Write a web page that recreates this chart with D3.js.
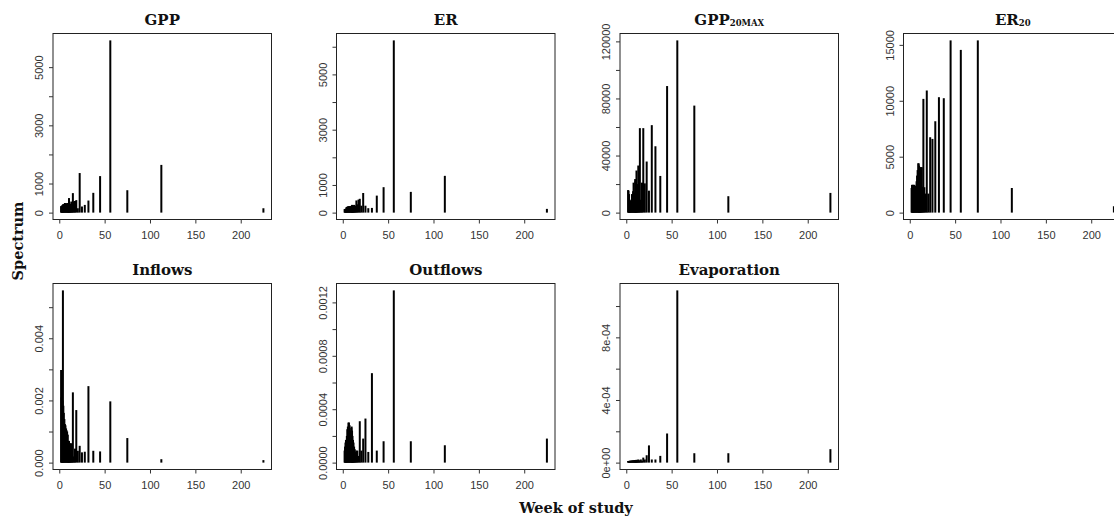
<!DOCTYPE html>
<html>
<head>
<meta charset="utf-8">
<script src="https://cdn.jsdelivr.net/npm/d3@7"></script>
<style>
  html, body { margin: 0; padding: 0; background: #fff; }
  svg { display: block; }
</style>
</head>
<body>
<svg id="chart" width="1114" height="520"></svg>
<script>
// Periodogram ordinates plotted against period (weeks); one entry per Fourier frequency kept.
const periods = [225, 112.5, 75, 56.25, 45, 37.5, 32.14, 28.13, 25, 22.5, 20.45, 18.75, 17.31, 16.07, 15, 14.06,
  13.24, 12.5, 11.84, 11.25, 10.71, 10.23, 9.78, 9.38, 8.65, 8.04, 7.5, 6.82, 6.25, 5.63, 5, 4.5, 4.02, 3.52, 3, 2.5, 2.01];

const gpp = [150, 1640, 770, 5920, 1255, 680, 415, 265, 210, 1360, 150, 430, 400, 380, 670, 250,
  380, 300, 280, 300, 500, 320, 280, 300, 330, 280, 300, 320, 330, 300, 290, 280, 280, 250, 240, 230, 220];

const er = [135, 1330, 750, 6230, 920, 615, 170, 160, 250, 710, 250, 500, 470, 300, 440, 250,
  200, 280, 260, 250, 220, 280, 250, 240, 230, 230, 225, 230, 220, 225, 210, 200, 190, 140, 135, 130, 125];

const gpp20max = [13800, 11500, 75000, 120700, 88700, 25700, 46500, 61300, 15400, 35800, 20500, 59200, 21000, 9000, 59200, 18000,
  33000, 20000, 18000, 29500, 17000, 22000, 23500, 14000, 13000, 21000, 15000, 10000, 13000, 9000, 7000, 8400, 6000, 9000, 13000, 15400, 15800];

const er20 = [570, 2200, 15400, 14550, 15400, 10230, 10320, 8170, 6590, 6740, 1700, 10920, 1700, 2270, 10170, 2300,
  4060, 4060, 3500, 4060, 3800, 4200, 4400, 4410, 3800, 3310, 2800, 2400, 1670, 2000, 2480, 2480, 2400, 2480, 2480, 2480, 2200];

const inflows = [0.00008, 0.00011, 0.00079, 0.00197, 0.00036, 0.00038, 0.00246, 0.00035, 0.00033, 0.00054, 0.00038, 0.00169, 0.00045, 0.00020, 0.00226, 0.00050,
  0.00062, 0.00062, 0.00060, 0.00062, 0.00070, 0.00065, 0.00070, 0.00090, 0.00100, 0.00104, 0.00110, 0.00120, 0.00124, 0.00140, 0.00160, 0.00183, 0.00554, 0.00200, 0.00210, 0.00210, 0.00298];

const outflows = [0.00018, 0.00013, 0.00016, 0.00129, 0.00016, 0.00009, 0.00067, 0.00008, 0.00033, 0.00018, 0.00009, 0.00031, 0.00005, 0.00009, 0.00009, 0.00008,
  0.00010, 0.00012, 0.00015, 0.00017, 0.00020, 0.00024, 0.00027, 0.00026, 0.00024, 0.00024, 0.00028, 0.00030, 0.00030, 0.00027, 0.00025, 0.00020, 0.00017, 0.00017, 0.00015, 0.00012, 0.00009];

const evaporation = [0.000086, 0.00006, 0.00006, 0.00110, 0.000186, 0.000043, 0.00002, 0.00002, 0.00011, 0.000047, 0.00002, 0.000032, 0.000012, 0.00002, 0.000015, 0.000012,
  0.00002, 0.000015, 0.000015, 0.000018, 0.000015, 0.000014, 0.000015, 0.000016, 0.000014, 0.000015, 0.000013, 0.000014, 0.000012, 0.000013, 0.000012, 0.000011, 0.000012, 0.00001, 0.000011, 0.00001, 0.00001];

// Axis ticks and their labels (blank where the label is dropped)
const xTicks = [0, 50, 100, 150, 200];
const gppTicks = [0, 1000, 2000, 3000, 4000, 5000];
const gppLabels = ["0", "1000", "", "3000", "", "5000"];
const erTicks = [0, 1000, 2000, 3000, 4000, 5000, 6000];
const erLabels = ["0", "1000", "", "3000", "", "5000", ""];
const gpp20Ticks = [0, 20000, 40000, 60000, 80000, 100000, 120000];
const gpp20Labels = ["0", "", "40000", "", "80000", "", "120000"];
const er20Ticks = [0, 5000, 10000, 15000];
const er20Labels = ["0", "5000", "10000", "15000"];
const inTicks = [0, 0.001, 0.002, 0.003, 0.004, 0.005];
const inLabels = ["0.000", "", "0.002", "", "0.004", ""];
const outTicks = [0, 0.0002, 0.0004, 0.0006, 0.0008, 0.001, 0.0012];
const outLabels = ["0.0000", "", "0.0004", "", "0.0008", "", "0.0012"];
const evTicks = [0, 0.0002, 0.0004, 0.0006, 0.0008, 0.001];
const evLabels = ["0e+00", "", "4e-04", "", "8e-04", ""];

const panels = [
  { title: "GPP", sub: "", values: gpp, ticks: gppTicks, labels: gppLabels, col: 0, row: 0 },
  { title: "ER", sub: "", values: er, ticks: erTicks, labels: erLabels, col: 1, row: 0 },
  { title: "GPP", sub: "20MAX", values: gpp20max, ticks: gpp20Ticks, labels: gpp20Labels, col: 2, row: 0 },
  { title: "ER", sub: "20", values: er20, ticks: er20Ticks, labels: er20Labels, col: 3, row: 0 },
  { title: "Inflows", sub: "", values: inflows, ticks: inTicks, labels: inLabels, col: 0, row: 1 },
  { title: "Outflows", sub: "", values: outflows, ticks: outTicks, labels: outLabels, col: 1, row: 1 },
  { title: "Evaporation", sub: "", values: evaporation, ticks: evTicks, labels: evLabels, col: 2, row: 1 }
];

// Layout of the 2 x 4 panel grid
const colLeft = [53, 336.5, 620, 903.5];
const rowTop = [33.5, 283.5];
const plotW = 218.5, plotH = 186;
const serif = "'DejaVu Serif', serif";
const sans = "'Liberation Sans', Arial, sans-serif";

const svg = d3.select("#chart");
svg.append("rect").attr("width", 1114).attr("height", 520).attr("fill", "#fff");

// R-style axis range: extent padded by 4% on both ends
function padded(ext) {
  const r = ext[1] - ext[0];
  return [ext[0] - 0.04 * r, ext[1] + 0.04 * r];
}

panels.forEach(p => {
  const left = colLeft[p.col], top = rowTop[p.row];
  const x = d3.scaleLinear().domain(padded(d3.extent(periods))).range([left, left + plotW]);
  const y = d3.scaleLinear().domain(padded([0, d3.max(p.values)])).range([top + plotH, top]);
  const g = svg.append("g");

  // spectrum spikes
  g.selectAll("line.spike")
    .data(periods.map((per, i) => ({ per, v: p.values[i] })))
    .join("line")
    .attr("class", "spike")
    .attr("x1", d => x(d.per)).attr("x2", d => x(d.per))
    .attr("y1", y(0)).attr("y2", d => y(d.v))
    .attr("stroke", "#000").attr("stroke-width", 2);

  // frame
  g.append("rect")
    .attr("x", left).attr("y", top).attr("width", plotW).attr("height", plotH)
    .attr("fill", "none").attr("stroke", "#222").attr("stroke-width", 1);

  // x axis
  const xa = g.append("g").attr("transform", `translate(0,${top + plotH})`)
    .call(d3.axisBottom(x).tickValues(xTicks).tickSize(4).tickPadding(8).tickFormat(d3.format("d")));
  xa.select(".domain").remove();
  xa.selectAll("line").attr("stroke", "#333");
  xa.selectAll("text").attr("font-family", sans).attr("font-size", 11).attr("fill", "#333");

  // y axis, labels parallel to the axis
  const ya = g.append("g").attr("transform", `translate(${left},0)`)
    .call(d3.axisLeft(y).tickValues(p.ticks).tickSize(4).tickFormat((d, i) => p.labels[i]));
  ya.select(".domain").remove();
  ya.selectAll("line").attr("stroke", "#333");
  ya.selectAll("text")
    .attr("font-family", sans).attr("font-size", 11).attr("fill", "#333")
    .attr("text-anchor", "middle")
    .attr("transform", "rotate(-90)")
    .attr("x", 0).attr("y", -10).attr("dy", null);

  // panel title
  const t = g.append("text")
    .attr("x", left + plotW / 2).attr("y", top - 9)
    .attr("text-anchor", "middle")
    .attr("font-family", serif).attr("font-weight", "bold").attr("font-size", 15)
    .attr("fill", "#111");
  t.append("tspan").text(p.title);
  if (p.sub) t.append("tspan").attr("font-size", 8.5).attr("dy", 1).text(p.sub);
});

// shared axis titles
svg.append("text")
  .attr("transform", "translate(23,241) rotate(-90)")
  .attr("text-anchor", "middle")
  .attr("font-family", serif).attr("font-weight", "bold").attr("font-size", 14.5)
  .attr("fill", "#111")
  .text("Spectrum");

svg.append("text")
  .attr("x", 576).attr("y", 513)
  .attr("text-anchor", "middle")
  .attr("font-family", serif).attr("font-weight", "bold").attr("font-size", 14.5)
  .attr("fill", "#111")
  .text("Week of study");
</script>
</body>
</html>
